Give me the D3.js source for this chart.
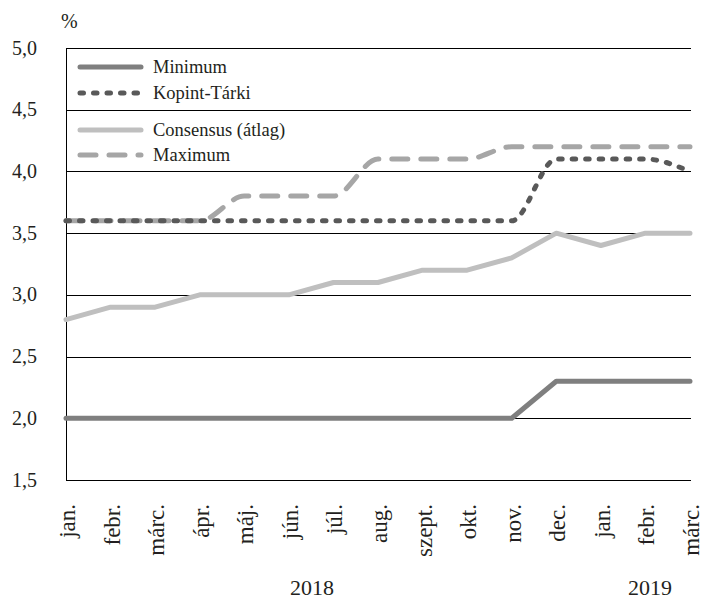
<!DOCTYPE html>
<html>
<head>
<meta charset="utf-8">
<script src="https://cdn.jsdelivr.net/npm/d3@7"></script>
<style>
  html, body { margin: 0; padding: 0; background: #fff; }
  svg { display: block; font-family: "Liberation Serif", "Times New Roman", serif; }
</style>
</head>
<body>
<svg id="chart" width="703" height="601"></svg>
<script>
// ---- data ----
const months = ["jan.", "febr.", "márc.", "ápr.", "máj.", "jún.", "júl.", "aug.", "szept.", "okt.", "nov.", "dec.", "jan.", "febr.", "márc."];
const years = ["2018", "2019"];
const yTicks = [1.5, 2.0, 2.5, 3.0, 3.5, 4.0, 4.5, 5.0];
const minimum   = [2.0, 2.0, 2.0, 2.0, 2.0, 2.0, 2.0, 2.0, 2.0, 2.0, 2.0, 2.3, 2.3, 2.3, 2.3];
const kopint    = [3.6, 3.6, 3.6, 3.6, 3.6, 3.6, 3.6, 3.6, 3.6, 3.6, 3.6, 4.1, 4.1, 4.1, 4.0];
const consensus = [2.8, 2.9, 2.9, 3.0, 3.0, 3.0, 3.1, 3.1, 3.2, 3.2, 3.3, 3.5, 3.4, 3.5, 3.5];
const maximum   = [3.6, 3.6, 3.6, 3.6, 3.8, 3.8, 3.8, 4.1, 4.1, 4.1, 4.2, 4.2, 4.2, 4.2, 4.2];
const seriesNames = ["Minimum", "Kopint-Tárki", "Consensus (átlag)", "Maximum"];

// ---- layout ----
const svg = d3.select("#chart");
const pLeft = 66, pRight = 690, pTop = 48, pBottom = 480;

const x = d3.scalePoint().domain(d3.range(months.length)).range([pLeft, pRight]);
const y = d3.scaleLinear().domain([1.5, 5.0]).range([pBottom, pTop]);

// gridlines
svg.append("g").selectAll("line").data(yTicks).join("line")
  .attr("x1", pLeft).attr("x2", pRight + 1)
  .attr("y1", d => Math.round(y(d)) + 0.5).attr("y2", d => Math.round(y(d)) + 0.5)
  .attr("stroke", "#000").attr("stroke-width", 1);

// left axis line
svg.append("line")
  .attr("x1", pLeft + 0.5).attr("x2", pLeft + 0.5)
  .attr("y1", Math.round(y(5.0)) + 0.5).attr("y2", Math.round(y(1.5)) + 0.5)
  .attr("stroke", "#000").attr("stroke-width", 1);

// y tick labels
svg.append("g").selectAll("text").data(yTicks).join("text")
  .attr("x", 37).attr("y", d => y(d)).attr("dy", "0.33em")
  .attr("text-anchor", "end").attr("font-size", 20).attr("fill", "#231f20")
  .text(d => d3.format(".1f")(d).replace(".", ","));

// unit
svg.append("text").attr("x", 61).attr("y", 28)
  .attr("font-size", 20).attr("fill", "#231f20").text("%");

// month labels
svg.append("g").selectAll("text").data(months).join("text")
  .attr("transform", (d, i) => `translate(${x(i) + 9},504) rotate(-90)`)
  .attr("text-anchor", "end").attr("font-size", 23).attr("fill", "#231f20")
  .text(d => d);

// year labels
svg.append("text").attr("x", 312).attr("y", 595).attr("text-anchor", "middle")
  .attr("font-size", 22).attr("fill", "#231f20").text(years[0]);
svg.append("text").attr("x", 650).attr("y", 595).attr("text-anchor", "middle")
  .attr("font-size", 22).attr("fill", "#231f20").text(years[1]);

// series styles
const styles = {
  "Minimum":           { data: minimum,   color: "#7f7f7f", dash: null,     curve: d3.curveLinear },
  "Kopint-Tárki":      { data: kopint,    color: "#595959", dash: "3.5,10", curve: d3.curveMonotoneX },
  "Consensus (átlag)": { data: consensus, color: "#bfbfbf", dash: null,     curve: d3.curveLinear },
  "Maximum":           { data: maximum,   color: "#a6a6a6", dash: "16,13",  curve: d3.curveMonotoneX }
};
const drawOrder = ["Minimum", "Consensus (átlag)", "Maximum", "Kopint-Tárki"];

drawOrder.forEach(name => {
  const s = styles[name];
  const line = d3.line().x((d, i) => x(i)).y(d => y(d)).curve(s.curve);
  svg.append("path").datum(s.data)
    .attr("d", line)
    .attr("fill", "none")
    .attr("stroke", s.color)
    .attr("stroke-width", 5)
    .attr("stroke-linecap", "round")
    .attr("stroke-linejoin", "round")
    .attr("stroke-dasharray", s.dash);
});

// legend
const legendY = [67, 93, 130, 155];
const lg = svg.append("g");
seriesNames.forEach((name, i) => {
  const s = styles[name];
  lg.append("line")
    .attr("x1", 80).attr("x2", 141)
    .attr("y1", legendY[i]).attr("y2", legendY[i])
    .attr("stroke", s.color).attr("stroke-width", 5)
    .attr("stroke-linecap", "round")
    .attr("stroke-dasharray", s.dash);
  lg.append("text")
    .attr("x", 153).attr("y", legendY[i]).attr("dy", "0.33em")
    .attr("font-size", 18.5).attr("fill", "#231f20")
    .text(name);
});
</script>
</body>
</html>
